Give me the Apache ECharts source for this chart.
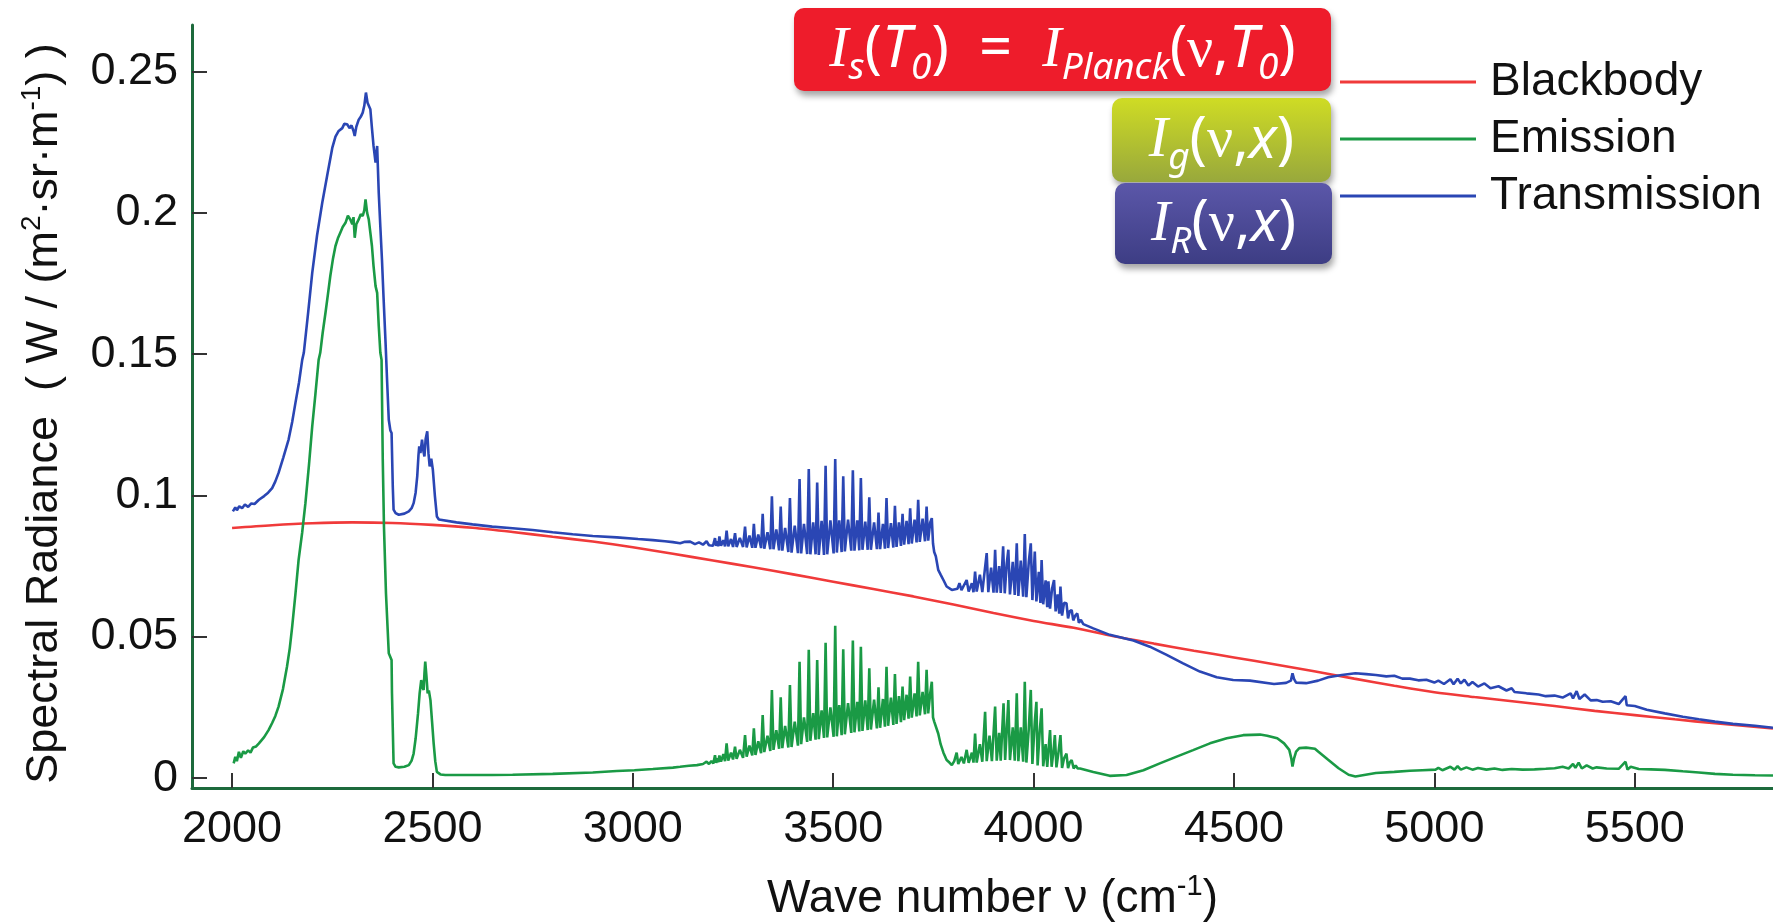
<!DOCTYPE html>
<html>
<head>
<meta charset="utf-8">
<script src="https://cdn.jsdelivr.net/npm/echarts@6/dist/echarts.min.js"></script>
<style>
html,body{margin:0;padding:0;background:#fff;}
#chart{width:1773px;height:922px;}
</style>
</head>
<body>
<div id="chart"></div>
<script>
// ---------- data (wave number cm^-1, spectral radiance) ----------
const xTicks = [2000, 2500, 3000, 3500, 4000, 4500, 5000, 5500];
const yTicks = [0, 0.05, 0.1, 0.15, 0.2, 0.25];
const seriesNames = ['Blackbody', 'Emission', 'Transmission'];

const blackbody = [[2000,0.0885],[2100,0.0895],[2200,0.0902],[2300,0.0905],[2400,0.0903],[2500,0.0896],[2600,0.0886],[2700,0.0871],[2800,0.0854],[2900,0.0837],[3000,0.0817],[3100,0.0794],[3200,0.0770],[3300,0.0746],[3400,0.0721],[3500,0.0695],[3600,0.0669],[3700,0.0643],[3800,0.0614],[3900,0.0584],[4000,0.0556],[4100,0.0532],[4200,0.0502],[4300,0.0476],[4400,0.0451],[4500,0.0427],[4600,0.0403],[4700,0.0378],[4800,0.0352],[4900,0.0327],[5000,0.0304],[5100,0.0287],[5200,0.0271],[5300,0.0255],[5400,0.0238],[5500,0.0223],[5600,0.0208],[5700,0.0194],[5845,0.0176]];

const emission = [[2004,0.0052],[2008,0.0075],[2012,0.0060],[2017,0.0093],[2022,0.0072],[2028,0.0095],[2033,0.0087],[2040,0.0098],[2046,0.0090],[2052,0.0108],[2060,0.0112],[2067,0.0123],[2080,0.0145],[2091,0.0170],[2100,0.0195],[2108,0.0220],[2116,0.0253],[2127,0.0315],[2137,0.0394],[2144,0.0460],[2150,0.0536],[2158,0.0650],[2166,0.0772],[2175,0.0870],[2183,0.0973],[2192,0.1110],[2200,0.1245],[2208,0.1360],[2216,0.1480],[2220,0.1505],[2226,0.1575],[2233,0.1646],[2239,0.1710],[2245,0.1776],[2252,0.1840],[2258,0.1883],[2264,0.1910],[2270,0.1930],[2276,0.1950],[2283,0.1965],[2289,0.1990],[2295,0.1977],[2300,0.1960],[2303,0.1985],[2306,0.1912],[2310,0.1960],[2316,0.1977],[2321,0.1995],[2326,0.1989],[2330,0.2010],[2333,0.2048],[2337,0.2000],[2341,0.1977],[2345,0.1930],[2349,0.1883],[2353,0.1812],[2358,0.1741],[2362,0.1717],[2366,0.1600],[2370,0.1505],[2373,0.1480],[2376,0.1127],[2379,0.0890],[2384,0.0654],[2391,0.0442],[2398,0.0418],[2399,0.0300],[2403,0.0052],[2408,0.0040],[2416,0.0038],[2430,0.0040],[2441,0.0046],[2448,0.0062],[2453,0.0087],[2458,0.0140],[2464,0.0229],[2468,0.0300],[2472,0.0347],[2475,0.0320],[2478,0.0312],[2480,0.0370],[2482,0.0412],[2485,0.0360],[2488,0.0300],[2491,0.0310],[2495,0.0276],[2499,0.0200],[2503,0.0123],[2507,0.0060],[2511,0.0022],[2520,0.0013],[2532,0.0011],[2600,0.0011],[2649,0.0011],[2700,0.0012],[2800,0.0015],[2900,0.0020],[2960,0.0025],[3004,0.0028],[3050,0.0032],[3100,0.0037],[3118,0.0040],[3140,0.0044],[3160,0.0046],[3175,0.0050],[3184,0.0058],[3190,0.0050],[3196,0.0060],[3201,0.0052],
[3205,0.0081],[3208,0.0054],[3211,0.0070],[3213,0.0056],[3216,0.0080],[3220,0.0058],[3226,0.0085],[3230,0.0060],[3234,0.0123],[3238,0.0062],[3245,0.0090],[3250,0.0066],[3255,0.0111],[3259,0.0068],[3267,0.0100],[3275,0.0072],[3280,0.0152],[3284,0.0076],[3291,0.0115],[3298,0.0080],[3302,0.0176],[3306,0.0082],[3313,0.0130],[3320,0.0088],[3324,0.0223],[3328,0.0092],[3336,0.0150],[3343,0.0096],[3347,0.0312],[3351,0.0100],[3358,0.0170],[3365,0.0104],[3369,0.0286],[3373,0.0106],[3380,0.0185],[3388,0.0108],[3392,0.0329],[3396,0.0110],[3404,0.0200],[3412,0.0115],[3416,0.0412],[3420,0.0120],[3427,0.0215],[3435,0.0128],[3439,0.0454],[3443,0.0132],[3450,0.0230],[3456,0.0136],[3460,0.0418],[3464,0.0138],[3471,0.0240],[3477,0.0142],[3481,0.0479],[3485,0.0144],[3493,0.0250],[3501,0.0146],[3505,0.0539],[3509,0.0148],[3515,0.0258],[3521,0.0152],[3525,0.0456],[3529,0.0155],[3537,0.0265],[3545,0.0160],[3549,0.0487],[3553,0.0162],[3560,0.0270],[3565,0.0165],[3569,0.0465],[3573,0.0167],[3580,0.0275],[3586,0.0170],[3590,0.0389],[3594,0.0172],[3602,0.0278],[3609,0.0176],[3613,0.0321],[3617,0.0178],[3624,0.0280],[3629,0.0182],[3633,0.0394],[3637,0.0185],[3644,0.0285],[3650,0.0188],[3654,0.0368],[3658,0.0192],[3664,0.0290],[3669,0.0198],[3673,0.0324],[3677,0.0205],[3683,0.0295],[3688,0.0210],[3692,0.0359],[3696,0.0214],[3703,0.0300],[3708,0.0218],[3712,0.0412],[3716,0.0222],[3723,0.0305],[3729,0.0226],[3733,0.0383],[3737,0.0229],[3742,0.0300],[3746,0.0341],[3749,0.0215],
[3752,0.0200],[3756,0.0194],[3762,0.0158],[3768,0.0120],[3775,0.0090],[3783,0.0064],[3790,0.0055],[3796,0.0046],[3802,0.0060],[3808,0.0090],[3812,0.0050],[3820,0.0075],[3826,0.0052],[3833,0.0100],[3838,0.0054],[3846,0.0090],[3850,0.0055],[3854,0.0158],[3858,0.0055],[3866,0.0120],[3872,0.0058],[3879,0.0235],[3883,0.0060],[3890,0.0150],[3896,0.0060],[3904,0.0253],[3908,0.0062],[3914,0.0160],[3918,0.0062],[3925,0.0265],[3929,0.0064],[3933,0.0170],[3937,0.0276],[3941,0.0064],[3948,0.0180],[3953,0.0062],[3958,0.0300],[3962,0.0060],[3968,0.0180],[3974,0.0058],[3978,0.0341],[3982,0.0055],[3988,0.0175],[3993,0.0312],[3997,0.0050],[4003,0.0200],[4007,0.0270],[4010,0.0045],[4015,0.0160],[4020,0.0247],[4024,0.0042],[4030,0.0120],[4034,0.0040],[4041,0.0170],[4045,0.0040],[4050,0.0100],[4053,0.0152],[4057,0.0038],[4062,0.0090],[4067,0.0152],[4071,0.0036],[4076,0.0070],[4082,0.0087],[4086,0.0035],[4090,0.0055],[4095,0.0064],[4100,0.0034],[4105,0.0045],[4110,0.0034],[4116,0.0034],
[4149,0.0022],[4190,0.0008],[4232,0.0011],[4274,0.0028],[4315,0.0052],[4357,0.0076],[4398,0.0099],[4440,0.0123],[4482,0.0141],[4523,0.0152],[4565,0.0154],[4583,0.0150],[4608,0.0141],[4625,0.0123],[4638,0.0100],[4643,0.0070],[4646,0.0041],[4650,0.0070],[4655,0.0094],[4663,0.0106],[4680,0.0108],[4702,0.0104],[4710,0.0094],[4735,0.0065],[4761,0.0035],[4786,0.0012],[4803,0.0006],[4854,0.0018],[4900,0.0022],[4939,0.0026],[4970,0.0028],[5003,0.0030],[5010,0.0036],[5020,0.0028],[5040,0.0040],[5050,0.0030],[5058,0.0042],[5066,0.0030],[5080,0.0038],[5095,0.0030],[5109,0.0036],[5130,0.0030],[5150,0.0034],[5170,0.0029],[5193,0.0032],[5220,0.0030],[5250,0.0031],[5278,0.0033],[5300,0.0035],[5320,0.0040],[5335,0.0034],[5346,0.0050],[5352,0.0036],[5360,0.0055],[5368,0.0034],[5380,0.0045],[5395,0.0034],[5405,0.0038],[5430,0.0034],[5460,0.0033],[5477,0.0058],[5482,0.0030],[5490,0.0040],[5510,0.0032],[5540,0.0031],[5575,0.0029],[5620,0.0024],[5660,0.0020],[5700,0.0015],[5745,0.0012],[5800,0.0010],[5845,0.0009]];

const transmission = [[2002,0.0944],[2008,0.0958],[2012,0.0948],[2018,0.0962],[2025,0.0955],[2032,0.0968],[2040,0.0960],[2048,0.0972],[2056,0.0970],[2067,0.0985],[2080,0.0998],[2090,0.1010],[2100,0.1026],[2108,0.1050],[2116,0.1080],[2128,0.1135],[2141,0.1198],[2150,0.1260],[2158,0.1327],[2167,0.1400],[2175,0.1480],[2179,0.1505],[2190,0.1650],[2200,0.1788],[2212,0.1920],[2225,0.2036],[2237,0.2130],[2250,0.2230],[2258,0.2270],[2266,0.2290],[2275,0.2300],[2280,0.2315],[2287,0.2314],[2293,0.2300],[2298,0.2310],[2303,0.2290],[2306,0.2272],[2310,0.2305],[2316,0.2330],[2321,0.2340],[2326,0.2355],[2330,0.2380],[2334,0.2426],[2338,0.2390],[2345,0.2367],[2349,0.2300],[2353,0.2237],[2358,0.2178],[2362,0.2237],[2366,0.2071],[2370,0.1950],[2374,0.1835],[2378,0.1700],[2383,0.1540],[2387,0.1400],[2391,0.1268],[2395,0.1230],[2398,0.1221],[2401,0.1032],[2403,0.0950],[2408,0.0938],[2416,0.0932],[2430,0.0936],[2441,0.0944],[2448,0.0955],[2453,0.0973],[2458,0.1010],[2462,0.1068],[2465,0.1140],[2467,0.1174],[2470,0.1150],[2474,0.1198],[2477,0.1160],[2480,0.1138],[2483,0.1200],[2487,0.1227],[2490,0.1150],[2493,0.1103],[2497,0.1130],[2501,0.1091],[2506,0.1000],[2511,0.0926],[2516,0.0915],[2520,0.0912],[2560,0.0905],[2600,0.0898],[2649,0.0890],[2700,0.0884],[2750,0.0878],[2800,0.0870],[2850,0.0863],[2900,0.0857],[2960,0.0852],[3013,0.0846],[3050,0.0842],[3080,0.0838],[3100,0.0835],[3118,0.0831],[3130,0.0836],[3143,0.0837],[3155,0.0828],[3165,0.0834],[3175,0.0826],[3184,0.0838],[3190,0.0824],[3200,0.0822],
[3205,0.0849],[3208,0.0822],[3211,0.0838],[3213,0.0820],[3216,0.0855],[3220,0.0822],[3226,0.0842],[3230,0.0820],[3234,0.0876],[3238,0.0820],[3245,0.0846],[3250,0.0818],[3255,0.0867],[3259,0.0818],[3267,0.0850],[3275,0.0818],[3280,0.0890],[3284,0.0816],[3291,0.0858],[3298,0.0815],[3302,0.0900],[3306,0.0815],[3313,0.0862],[3320,0.0814],[3324,0.0935],[3328,0.0812],[3336,0.0870],[3343,0.0810],[3347,0.0997],[3351,0.0810],[3358,0.0880],[3365,0.0806],[3369,0.0961],[3373,0.0805],[3380,0.0885],[3388,0.0800],[3392,0.0991],[3396,0.0798],[3404,0.0893],[3412,0.0796],[3416,0.1058],[3420,0.0795],[3427,0.0900],[3435,0.0793],[3439,0.1094],[3443,0.0792],[3450,0.0905],[3456,0.0792],[3460,0.1046],[3464,0.0790],[3471,0.0910],[3477,0.0790],[3481,0.1105],[3485,0.0792],[3493,0.0912],[3501,0.0795],[3505,0.1129],[3509,0.0798],[3515,0.0912],[3521,0.0800],[3525,0.1068],[3529,0.0802],[3537,0.0915],[3545,0.0805],[3549,0.1089],[3553,0.0805],[3560,0.0912],[3565,0.0806],[3569,0.1062],[3573,0.0808],[3580,0.0908],[3586,0.0808],[3590,0.0994],[3594,0.0808],[3602,0.0905],[3609,0.0810],[3613,0.0940],[3617,0.0810],[3624,0.0900],[3629,0.0812],[3633,0.0991],[3637,0.0814],[3644,0.0902],[3650,0.0816],[3654,0.0964],[3658,0.0818],[3664,0.0905],[3669,0.0822],[3673,0.0935],[3677,0.0826],[3683,0.0910],[3688,0.0828],[3692,0.0955],[3696,0.0830],[3703,0.0915],[3708,0.0834],[3712,0.0985],[3716,0.0836],[3723,0.0918],[3729,0.0838],[3733,0.0961],[3737,0.0840],[3742,0.0905],[3746,0.0920],[3749,0.0830],
[3752,0.0800],[3756,0.0785],[3762,0.0737],[3768,0.0720],[3775,0.0701],[3783,0.0678],[3796,0.0666],[3810,0.0670],[3815,0.0690],[3820,0.0665],[3833,0.0701],[3838,0.0660],[3846,0.0690],[3850,0.0658],[3854,0.0731],[3858,0.0660],[3866,0.0720],[3872,0.0658],[3883,0.0796],[3887,0.0658],[3894,0.0745],[3900,0.0656],[3904,0.0808],[3908,0.0656],[3914,0.0750],[3918,0.0655],[3924,0.0820],[3928,0.0654],[3933,0.0760],[3937,0.0808],[3941,0.0650],[3948,0.0765],[3953,0.0648],[3958,0.0831],[3962,0.0645],[3968,0.0770],[3974,0.0642],[3978,0.0864],[3982,0.0640],[3988,0.0765],[3993,0.0831],[3997,0.0630],[4003,0.0802],[4007,0.0625],[4013,0.0730],[4017,0.0620],[4020,0.0772],[4024,0.0615],[4030,0.0700],[4034,0.0605],[4037,0.0696],[4041,0.0600],[4046,0.0670],[4051,0.0701],[4055,0.0590],[4060,0.0650],[4064,0.0582],[4067,0.0678],[4071,0.0575],[4076,0.0620],[4082,0.0619],[4086,0.0565],[4090,0.0590],[4095,0.0595],[4099,0.0558],[4104,0.0575],[4109,0.0583],[4113,0.0550],[4118,0.0560],[4124,0.0545],
[4149,0.0530],[4190,0.0507],[4249,0.0487],[4290,0.0465],[4332,0.0436],[4373,0.0406],[4415,0.0377],[4457,0.0357],[4498,0.0347],[4540,0.0345],[4600,0.0333],[4630,0.0337],[4642,0.0345],[4646,0.0371],[4650,0.0350],[4655,0.0338],[4680,0.0336],[4710,0.0345],[4735,0.0357],[4769,0.0365],[4803,0.0371],[4830,0.0368],[4854,0.0365],[4880,0.0360],[4900,0.0362],[4920,0.0352],[4939,0.0352],[4960,0.0346],[4980,0.0348],[5000,0.0338],[5010,0.0345],[5024,0.0333],[5040,0.0350],[5048,0.0332],[5058,0.0352],[5066,0.0335],[5075,0.0348],[5085,0.0328],[5095,0.0340],[5109,0.0324],[5125,0.0335],[5140,0.0318],[5160,0.0325],[5180,0.0310],[5193,0.0318],[5200,0.0305],[5230,0.0300],[5260,0.0296],[5278,0.0290],[5300,0.0292],[5320,0.0285],[5340,0.0300],[5346,0.0282],[5355,0.0308],[5362,0.0280],[5375,0.0296],[5390,0.0275],[5405,0.0276],[5420,0.0270],[5440,0.0272],[5460,0.0262],[5477,0.0290],[5480,0.0258],[5500,0.0255],[5530,0.0242],[5575,0.0229],[5620,0.0217],[5660,0.0208],[5700,0.0200],[5745,0.0192],[5800,0.0185],[5845,0.0178]];

// ---------- chart ----------
const chart = echarts.init(document.getElementById('chart'), null, {renderer: 'canvas'});
const sans = 'Liberation Sans, Arial, sans-serif';
const colors = {Blackbody: '#f03a3a', Emission: '#1a9a45', Transmission: '#2a46b4'};

function box(x, y, w, h, fill, rich, text) {
  return {
    type: 'group',
    children: [
      {type: 'rect', shape: {x: x, y: y, width: w, height: h, r: 10},
       style: {fill: fill, shadowBlur: 6, shadowOffsetX: 2, shadowOffsetY: 5, shadowColor: 'rgba(0,0,0,0.35)'}},
      {type: 'text', x: x + w / 2, y: y + h / 2 + 1,
       style: {text: text, rich: rich, align: 'center', verticalAlign: 'middle', fill: '#fff'}}
    ]
  };
}
const F = 58;
const LH = 72;
const fRich = {
  I: {fontFamily: 'Liberation Serif', fontStyle: 'italic', fontSize: F, lineHeight: LH, color: '#fff'},
  it: {fontFamily: 'Noto Sans', fontStyle: 'italic', fontSize: F, lineHeight: LH, color: '#fff'},
  p: {fontFamily: 'Noto Sans', fontSize: F, lineHeight: LH, color: '#fff'},
  nu: {fontFamily: 'Liberation Serif', fontSize: F, lineHeight: LH, color: '#fff'},
  sub: {fontFamily: 'Noto Sans', fontStyle: 'italic', fontSize: 37, lineHeight: 37, verticalAlign: 'bottom', color: '#fff'}
};

const option = {
  animation: false,
  backgroundColor: '#ffffff',
  grid: {left: 192, right: 0, top: 25, bottom: 134, containLabel: false, outerBoundsMode: 'none'},
  legend: {
    data: seriesNames, orient: 'vertical', left: 1340, top: 59, padding: 0,
    icon: 'rect', itemWidth: 136, itemHeight: 3, itemGap: 11,
    selectedMode: false,
    textStyle: {fontFamily: sans, fontSize: 46, color: '#111', lineHeight: 44, padding: [0, 0, 0, 9]}
  },
  xAxis: {
    type: 'value', min: 1900, max: 5845,
    axisLine: {show: true, onZero: false, lineStyle: {color: '#1d6a3c', width: 3}},
    axisTick: {show: true, inside: true, length: 15, customValues: xTicks, lineStyle: {color: '#333', width: 2}},
    axisLabel: {show: true, customValues: xTicks, margin: 19, fontFamily: sans, fontSize: 45, color: '#111',
      formatter: function (v) { return String(v); }},
    splitLine: {show: false},
    name: '{a|Wave number ν (cm}{s|-1}{a|)}',
    nameLocation: 'middle', nameGap: 84,
    nameTextStyle: {padding: [0, 0, 0, 20], rich: {
      a: {fontFamily: sans, fontSize: 46, lineHeight: 54, color: '#111'},
      s: {fontFamily: sans, fontSize: 29, lineHeight: 29, verticalAlign: 'top', color: '#111'}
    }}
  },
  yAxis: {
    type: 'value', min: -0.0035, max: 0.2665,
    axisLine: {show: true, onZero: false, lineStyle: {color: '#1d6a3c', width: 3}},
    axisTick: {show: true, inside: true, length: 15, customValues: yTicks, lineStyle: {color: '#333', width: 2}},
    axisLabel: {show: true, customValues: yTicks, margin: 14, fontFamily: sans, fontSize: 45, color: '#111',
      formatter: function (v) { return String(v); }},
    splitLine: {show: false},
    name: '{a|Spectral Radiance  ( W / (m}{s|2}{a|·sr·m}{s|-1}{a|) )}',
    nameLocation: 'middle', nameGap: 120, nameRotate: 90,
    nameTextStyle: {padding: [0, 14, 0, 0], rich: {
      a: {fontFamily: sans, fontSize: 45, lineHeight: 54, color: '#111'},
      s: {fontFamily: sans, fontSize: 28, lineHeight: 28, verticalAlign: 'top', color: '#111'}
    }}
  },
  graphic: [
    box(794, 8, 537, 83, '#ee1c2b', fRich,
        '{I|I}{sub|s}{p|(}{it|T}{sub|0}{p|)  =  }{I|I}{sub|Planck}{p|(}{nu|ν}{p|,}{it|T}{sub|0}{p|)}'),
    box(1112, 98, 219, 84, {type: 'linear', x: 0, y: 0, x2: 0, y2: 1,
        colorStops: [{offset: 0, color: '#cfdc24'}, {offset: 1, color: '#98a83c'}]}, fRich,
        '{I|I}{sub|g}{p|(}{nu|ν}{p|,}{it|x}{p|)}'),
    box(1115, 183, 217, 81, {type: 'linear', x: 0, y: 0, x2: 0, y2: 1,
        colorStops: [{offset: 0, color: '#5b57a9'}, {offset: 1, color: '#3d3d84'}]}, fRich,
        '{I|I}{sub|R}{p|(}{nu|ν}{p|,}{it|x}{p|)}')
  ],
  series: [
    {name: 'Blackbody', type: 'line', data: blackbody, showSymbol: false, symbol: 'none', smooth: 0.3,
     lineStyle: {color: colors.Blackbody, width: 2.6}, itemStyle: {color: colors.Blackbody}},
    {name: 'Emission', type: 'line', data: emission, showSymbol: false, symbol: 'none',
     lineStyle: {color: colors.Emission, width: 2.6}, itemStyle: {color: colors.Emission}},
    {name: 'Transmission', type: 'line', data: transmission, showSymbol: false, symbol: 'none',
     lineStyle: {color: colors.Transmission, width: 2.6}, itemStyle: {color: colors.Transmission}}
  ]
};
chart.setOption(option);
</script>
</body>
</html>
